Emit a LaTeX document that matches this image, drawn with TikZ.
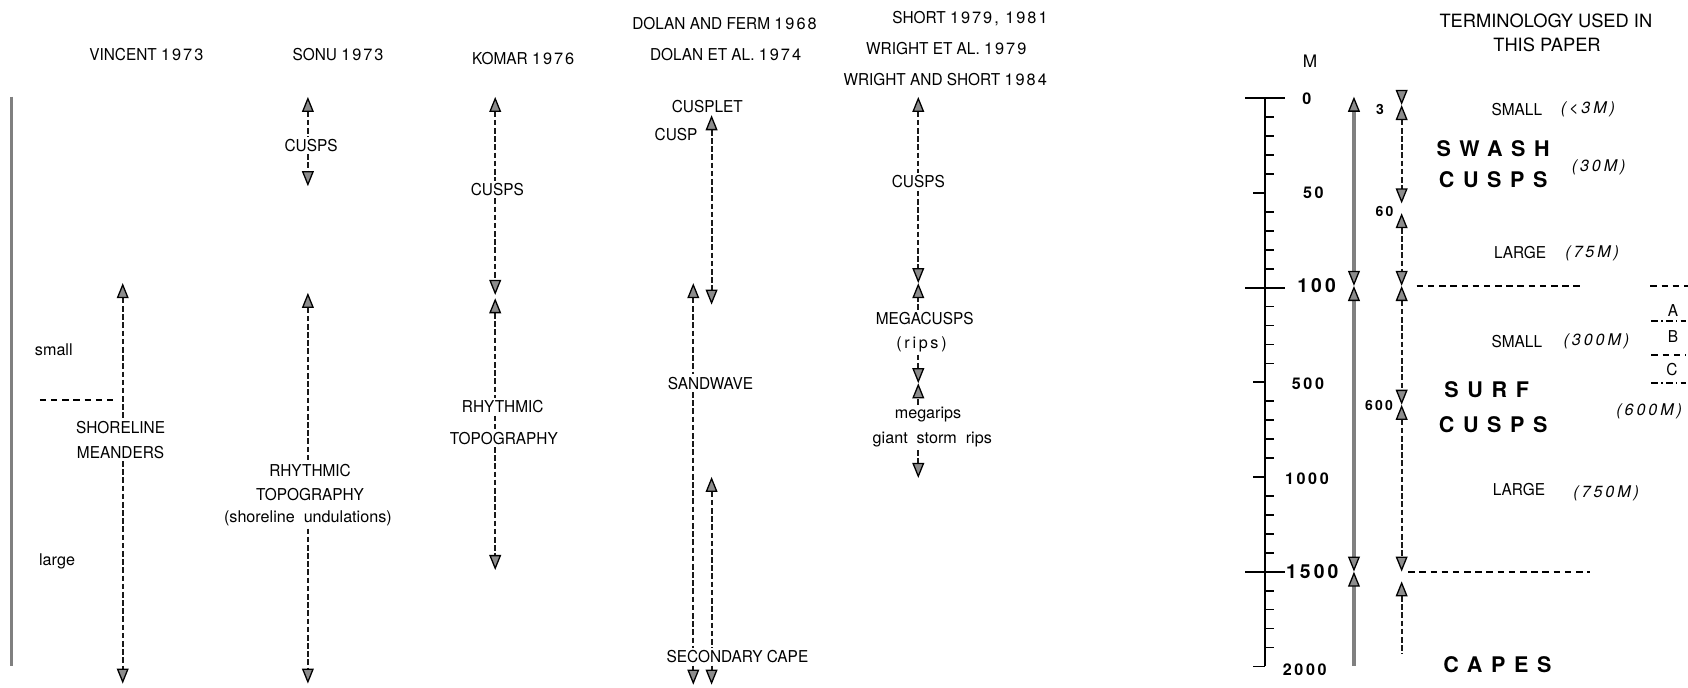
\documentclass[tikz,border=0pt]{standalone}
\usepackage{fontspec}
\usetikzlibrary{arrows.meta}
\setmainfont{TeX Gyre Heros}
\newfontfamily\labfam[FakeStretch=0.94]{TeX Gyre Heros}
\newfontfamily\yrfam[LetterSpace=12]{TeX Gyre Heros}
\newfontfamily\itfam[LetterSpace=18]{TeX Gyre Heros}
\newfontfamily\bigfam[LetterSpace=40]{TeX Gyre Heros}
\newfontfamily\numfam[LetterSpace=16]{TeX Gyre Heros}
\newcommand\Lbl{\labfam\fontsize{7.6}{9}\selectfont}
\newcommand\Yr{\yrfam\fontsize{7.6}{9}\selectfont}
\newcommand\Low{\fontsize{7.5}{9}\selectfont}
\newcommand\Ital{\itfam\itshape\fontsize{7.5}{9}\selectfont}
\newcommand\BigSp{\bigfam\bfseries\fontsize{10}{12}\selectfont}
\newcommand\Num{\numfam\bfseries\fontsize{7.5}{9}\selectfont}
\newcommand\NumL{\numfam\bfseries\fontsize{9}{11}\selectfont}
\newcommand\NumS{\numfam\bfseries\fontsize{6.5}{8}\selectfont}
\newcommand\Term{\fontsize{8.5}{10}\selectfont}
\begin{document}
\begin{tikzpicture}[x=0.5pt,y=-0.5pt,
  lbl/.style={font=\Lbl,inner sep=1pt},
  low/.style={font=\Low,inner sep=1pt},
  itl/.style={font=\Ital,inner sep=1pt},
  bigsp/.style={font=\BigSp,inner sep=1pt},
  num/.style={font=\Num,inner sep=1pt},
  numl/.style={font=\NumL,inner sep=1pt},
  nums/.style={font=\NumS,inner sep=1pt},
  term/.style={font=\Term,inner sep=1pt},
  dsh/.style={draw=black!90,line width=0.9pt,dash pattern=on 2.6pt off 1.2pt},
  hdash/.style={draw=black,line width=0.9pt,dash pattern=on 3pt off 2.2pt},
  ddot/.style={draw=black,line width=0.9pt,dash pattern=on 3pt off 1.6pt on 0.6pt off 1.6pt},
  solidbar/.style={draw=black!50,line width=1.6pt},
  axisln/.style={draw=black,line width=1pt},
  tickln/.style={draw=black,line width=0.8pt},
  hd/.style={},
  ea/.style={-{Triangle[length=7pt,width=5.5pt,fill=black!45,color=black,line width=0.6pt]}},
  sa/.style={{Triangle[length=7pt,width=5.5pt,fill=black!45,color=black,line width=0.6pt]}-},
  ba/.style={{Triangle[length=7pt,width=5.5pt,fill=black!45,color=black,line width=0.6pt]}-{Triangle[length=7pt,width=5.5pt,fill=black!45,color=black,line width=0.6pt]}},
  ]
\useasboundingbox (0,0) rectangle (1568,639);

% ---------- titles ----------
\node[lbl] (tVin) at (136,51) {VINCENT {\Yr 1973}};
\node[lbl] (tSon) at (314,51) {SONU {\Yr 1973}};
\node[lbl] (tKom) at (486,54) {KOMAR {\Yr 1976}};
\node[lbl] (tDoF) at (673,22) {DOLAN AND FERM {\Yr 1968}};
\node[lbl] (tDoE) at (674,51) {DOLAN ET AL. {\Yr 1974}};
\node[lbl] (tSho) at (901,17) {SHORT {\Yr 1979, 1981}};
\node[lbl] (tWrE) at (879,45) {WRIGHT ET AL. {\Yr 1979}};
\node[lbl] (tWrS) at (878,74) {WRIGHT AND SHORT {\Yr 1984}};
\node[term] (tTer1) at (1436,19) {TERMINOLOGY USED IN};
\node[term] (tTer2) at (1437,42) {THIS PAPER};

% ---------- left bar ----------
\coordinate (L0) at (10.7,89.8);
\coordinate (L1) at (10.7,619);
\draw[solidbar] (L0) -- (L1);
\node[low] (small) at (50,325) {small};
\node[low] (large) at (53,521) {large};

% ---------- Vincent ----------
\coordinate (V0) at (114,263);
\coordinate (V1) at (114,635);
\node[lbl] (vShore) at (112,397) {SHORELINE};
\node[lbl] (vMean) at (112,420) {MEANDERS};
\draw[dsh,sa] (V0) -- (vShore.north -| V0);
\draw[dsh,ea] (vMean.south -| V1) -- (V1);
\coordinate (VH0) at (37,371.5);
\coordinate (VH1) at (105,371.5);
\draw[hdash] (VH0) -- (VH1);

% ---------- Sonu ----------
\coordinate (S0) at (286,90);
\coordinate (S1) at (286,173);
\coordinate (S2) at (286,272);
\coordinate (S3) at (286,635);
\node[lbl] (sCusps) at (289,135) {CUSPS};
\node[lbl] (sRhy) at (288,437) {RHYTHMIC};
\node[lbl] (sTopo) at (288,459) {TOPOGRAPHY};
\node[low] (sUnd) at (286,481.5) {(shoreline\ \ undulations)};
\draw[dsh,sa] (S0) -- (sCusps.north -| S0);
\draw[dsh,ea] (sCusps.south -| S1) -- (S1);
\draw[dsh,sa] (S2) -- (sRhy.north -| S2);
\draw[dsh,ea] (sUnd.south -| S3) -- (S3);

% ---------- Komar ----------
\coordinate (K0) at (460,90);
\coordinate (K1) at (460,274);
\coordinate (K2) at (460,277);
\coordinate (K3) at (460,529.5);
\node[lbl] (kCusps) at (462,176) {CUSPS};
\node[lbl] (kRhy) at (467,378) {RHYTHMIC};
\node[lbl] (kTopo) at (468,407) {TOPOGRAPHY};
\draw[dsh,sa] (K0) -- (kCusps.north -| K0);
\draw[dsh,ea] (kCusps.south -| K1) -- (K1);
\draw[dsh,sa] (K2) -- (kRhy.north -| K2);
\draw[dsh] (kRhy.south -| K2) -- (kTopo.north -| K2);
\draw[dsh,ea] (kTopo.south -| K3) -- (K3);

% ---------- Dolan ----------
\node[lbl] (dCusplet) at (657,99) {CUSPLET};
\node[lbl] (dCusp) at (628,125) {CUSP};
\node[lbl] (dSand) at (660,356) {SANDWAVE};
\node[lbl] (dCape) at (685,610) {SECONDARY CAPE};
\coordinate (DR0) at (661,107);
\coordinate (DR1) at (661,283);
\coordinate (DR2) at (661,443);
\coordinate (DR3) at (661,636);
\coordinate (DL0) at (644,263);
\coordinate (DL1) at (644,636);
\draw[dsh,ba] (DR0) -- (DR1);
\draw[dsh,sa] (DL0) -- (dSand.north -| DL0);
\draw[dsh] (dSand.south -| DL0) -- (dCape.north -| DL0);
\draw[dsh,sa] (DR2) -- (dCape.north -| DR2);
\draw[dsh,ea] (dCape.south -| DL1) -- (DL1);
\draw[dsh,ea] (dCape.south -| DR3) -- (DR3);

% ---------- Wright / Short ----------
\coordinate (W0) at (853,90);
\coordinate (W1) at (853,263);
\coordinate (W2) at (853,356);
\coordinate (W3) at (853,444);
\node[lbl] (wCusps) at (853,169) {CUSPS};
\node[lbl] (wMega) at (859,296) {MEGACUSPS};
\node[low] (wRips) at (856,320) {(\,r\,i\,p\,s\,)};
\node[low] (wMegr) at (862,385.5) {megarips};
\node[low] (wGiant) at (866,408.7) {giant\ \ storm\ \ rips};
\draw[dsh,sa] (W0) -- (wCusps.north -| W0);
\draw[dsh,ea] (wCusps.south -| W1) -- (W1);
\draw[dsh,ea] (wMega.north -| W1) -- (W1);
\draw[dsh,ea] (wRips.south -| W2) -- (W2);
\draw[dsh,ea] (wMegr.north -| W2) -- (W2);
\draw[dsh,ea] (wGiant.south -| W3) -- (W3);

% ---------- scale ----------
\node[font=\fontsize{8}{9}\selectfont,inner sep=1pt] (mUnit) at (1217,57) {M};
\foreach \i in {0,...,30} { \coordinate (t\i) at (1175,{91.3+\i*17.59}); }
\draw[axisln] (t0) -- (t30);
\foreach \i in {1,2,3,4,6,7,8,9,11,12,13,14,16,17,18,19,21,22,23,24,26,27,28,29}
  \draw[tickln] (t\i) -- ++(8,0);
\foreach \i in {5,15,20,30}
  \draw[tickln] (t\i) -- ++(-11,0);
\foreach \i in {0,10,25}
  \draw[axisln] (t\i) ++(-18.5,0) -- ++(37,0);
\node[num]  (n0)    at (1214,91.3)  {0};
\node[num]  (n50)   at (1220,179)   {50};
\node[numl] (n100)  at (1223,265.6) {100};
\node[num]  (n500)  at (1215,356)   {500};
\node[num]  (n1000) at (1214,444.3) {1000};
\node[numl] (n1500) at (1219,531)   {1500};
\node[num]  (n2000) at (1212,622)   {2000};

% solid range arrow
\coordinate (R0) at (1257.7,89.8);
\coordinate (R1) at (1257.7,265.6);
\coordinate (R2) at (1257.7,531);
\coordinate (R3) at (1257.7,619);
\draw[solidbar,ba] (R0) -- (R1);
\draw[solidbar,ba] (R1) -- (R2);
\draw[solidbar,sa] (R2) -- (R3);

% dashed class arrow
\coordinate (Q0) at (1302,84);
\coordinate (Q1) at (1302,97.5);
\coordinate (Q2) at (1302,189);
\coordinate (Q3) at (1302,198);
\coordinate (Q4) at (1302,265.6);
\coordinate (Q5) at (1302,376);
\coordinate (Q6) at (1302,531);
\coordinate (Q7) at (1302,540);
\coordinate (Q8) at (1302,607);
\draw[dsh,ea] (Q0) -- (Q1);
\draw[dsh,ba] (Q1) -- (Q2);
\draw[dsh,ba] (Q3) -- (Q4);
\draw[dsh,ba] (Q4) -- (Q5);
\draw[dsh,ba] (Q5) -- (Q6);
\draw[dsh,sa] (Q7) -- (Q8);
\node[nums] (n3)   at (1282,102) {3};
\node[nums] (n60)  at (1286,196.6) {60};
\node[nums] (n600) at (1281,377) {600};

% boundaries
\coordinate (H1a) at (1316,265.6);
\coordinate (H1b) at (1469,265.6);
\coordinate (H2a) at (1308,531);
\coordinate (H2b) at (1477,531);
\draw[hdash] (H1a) -- (H1b);
\draw[hdash] (H2a) -- (H2b);
\coordinate (G1a) at (1533,265.6); \coordinate (G1b) at (1568,265.6);
\coordinate (G2a) at (1534,297.8); \coordinate (G2b) at (1566,297.8);
\coordinate (G3a) at (1534,329.7); \coordinate (G3b) at (1566,329.7);
\coordinate (G4a) at (1534,356);   \coordinate (G4b) at (1566,356);
\draw[hdash] (G1a) -- (G1b);
\draw[ddot] (G2a) -- (G2b);
\draw[hdash] (G3a) -- (G3b);
\draw[ddot] (G4a) -- (G4b);
\node[lbl] (cA) at (1554,288) {A};
\node[lbl] (cB) at (1554,312.7) {B};
\node[lbl] (cC) at (1553,343.7) {C};

% classes
\node[lbl] (k1) at (1409,102) {SMALL};
\node[itl] (k1s) at (1475,102) {(<3M)};
\node[bigsp] (kSwash) at (1387,137.8) {SWASH};
\node[bigsp] (kCusps1) at (1387,167) {CUSPS};
\node[itl] (k30) at (1485,155) {(30M)};
\node[lbl] (k2) at (1412,235) {LARGE};
\node[itl] (k2s) at (1479,235) {(75M)};
\node[lbl] (k3) at (1409,317) {SMALL};
\node[itl] (k3s) at (1483,317) {(300M)};
\node[bigsp] (kSurf) at (1381,361.6) {SURF};
\node[bigsp] (kCusps2) at (1387,394.7) {CUSPS};
\node[itl] (k600) at (1532,381.7) {(600M)};
\node[lbl] (k4) at (1411,454.5) {LARGE};
\node[itl] (k4s) at (1492,458) {(750M)};
\node[bigsp] (kCapes) at (1391,617.6) {CAPES};
\end{tikzpicture}
\end{document}
